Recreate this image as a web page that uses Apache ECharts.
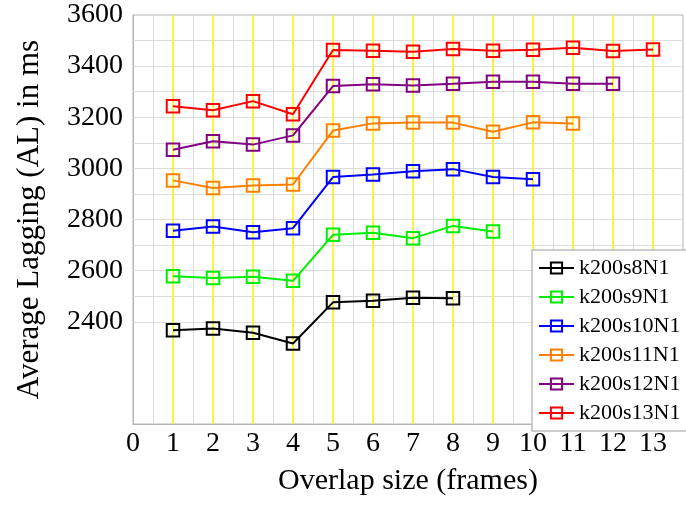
<!DOCTYPE html>
<html>
<head>
<meta charset="utf-8">
<script src="https://cdn.jsdelivr.net/npm/echarts@6/dist/echarts.min.js"></script>
<style>
html,body{margin:0;padding:0;background:#fff;}
#chart{width:686px;height:506px;}
</style>
</head>
<body>
<div id="chart"></div>
<script>
// ---- data ----
const seriesNames = ['k200s8N1','k200s9N1','k200s10N1','k200s11N1','k200s12N1','k200s13N1'];
const overlap = [1,2,3,4,5,6,7,8,9,10,11,12,13];
const k200s8N1  = [2367, 2374, 2357, 2315, 2476, 2482, 2494, 2492];
const k200s9N1  = [2578, 2571, 2576, 2560, 2740, 2748, 2727, 2775, 2753];
const k200s10N1 = [2756, 2773, 2750, 2766, 2966, 2976, 2989, 2997, 2966, 2957];
const k200s11N1 = [2953, 2923, 2933, 2937, 3148, 3176, 3179, 3179, 3143, 3180, 3176];
const k200s12N1 = [3073, 3106, 3093, 3129, 3322, 3329, 3324, 3331, 3339, 3339, 3331, 3331];
const k200s13N1 = [3243, 3227, 3263, 3212, 3463, 3460, 3456, 3467, 3460, 3464, 3472, 3459, 3465];
const yTickLabels = [2400, 2600, 2800, 3000, 3200, 3400, 3600];
const xTickLabels = [0,1,2,3,4,5,6,7,8,9,10,11,12,13];
const hGridValues = [2400,2500,2600,2700,2800,2900,3000,3100,3200,3300,3400,3500];
const vMinorValues = [0.5,1.5,2.5,3.5,4.5,5.5,6.5,7.5,8.5,9.5,10.5,11.5,12.5];
const vYellowValues = [1,2,3,4,5,6,7,8,9,10,11,12,13];

const allValues = [k200s8N1,k200s9N1,k200s10N1,k200s11N1,k200s12N1,k200s13N1];
const colors = ['#000000','#00ee00','#0000ff','#ff8000','#800080','#ff0000'];

const FONT = '"Liberation Serif", "DejaVu Serif", serif';

const chart = echarts.init(document.getElementById('chart'), null, {renderer:'canvas'});

const gridLines = [];
hGridValues.forEach(v => gridLines.push({yAxis: v, lineStyle:{color:'#dcdcdc', width:1, type:'solid'}}));
vMinorValues.forEach(v => gridLines.push({xAxis: v, lineStyle:{color:'#dcdcdc', width:1, type:'solid'}}));
vYellowValues.forEach(v => gridLines.push({xAxis: v, lineStyle:{color:'#ffee00', width:1.5, type:'solid'}}));

const dataSeries = seriesNames.map((name, i) => ({
  name: name,
  type: 'line',
  z: 3,
  data: allValues[i].map((v, j) => [overlap[j], v]),
  symbol: 'rect',
  symbolSize: 12.5,
  showAllSymbol: true,
  color: colors[i],
  lineStyle: {color: colors[i], width: 2},
  itemStyle: {color: 'rgba(255,255,255,0)', borderColor: colors[i], borderWidth: 2},
  emphasis: {disabled: true},
  animation: false
}));

const option = {
  animation: false,
  backgroundColor: '#ffffff',
  grid: {left: 133, top: 15, right: 1, bottom: 82, show: true, borderColor: '#b4b4b4', borderWidth: 1, backgroundColor: 'transparent'},
  xAxis: {
    type: 'value', min: 0, max: 13.75, interval: 1,
    axisLine: {show: true, lineStyle: {color: '#b4b4b4', width: 1}},
    axisTick: {show: false},
    splitLine: {show: false},
    axisLabel: {
      fontFamily: FONT, fontSize: 28, color: '#000', margin: 6,
      formatter: v => (xTickLabels.indexOf(v) >= 0 ? String(v) : '')
    },
    name: 'Overlap size (frames)', nameLocation: 'middle', nameGap: 42,
    nameTextStyle: {fontFamily: FONT, fontSize: 30, color: '#000'}
  },
  yAxis: {
    type: 'value', min: 2000, max: 3600, interval: 200,
    axisLine: {show: true, lineStyle: {color: '#b4b4b4', width: 1}},
    axisTick: {show: false},
    splitLine: {show: false},
    axisLabel: {
      fontFamily: FONT, fontSize: 28, color: '#000', margin: 10,
      formatter: v => (yTickLabels.indexOf(v) >= 0 ? String(v) : '')
    },
    name: 'Average Lagging (AL) in ms', nameLocation: 'middle', nameGap: 88,
    nameTextStyle: {fontFamily: FONT, fontSize: 31, color: '#000'}
  },
  legend: {
    orient: 'vertical', left: 532, top: 250, z: 10,
    data: seriesNames,
    backgroundColor: '#ffffff', borderColor: '#bdbdbd', borderWidth: 1.5,
    padding: [7, 30, 7, 6],
    itemWidth: 35, itemHeight: 14, itemGap: 7,
    textStyle: {fontFamily: FONT, fontSize: 22, color: '#000', lineHeight: 20},
    selectedMode: false
  },
  series: [
    {
      name: '__grid', type: 'line', data: [], z: 1, silent: true,
      markLine: {silent: true, z: 1, symbol: ['none','none'], label: {show: false}, animation: false, data: gridLines}
    }
  ].concat(dataSeries)
};
chart.setOption(option);
</script>
</body>
</html>
